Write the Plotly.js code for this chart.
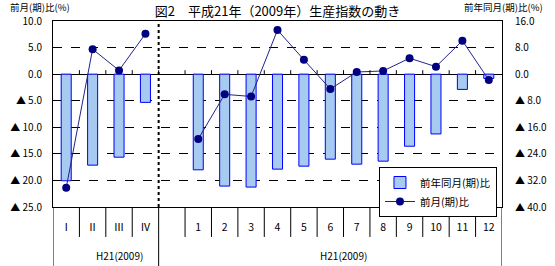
<!DOCTYPE html>
<html>
<head>
<meta charset="utf-8">
<script src="https://cdn.plot.ly/plotly-3.0.1.min.js"></script>
<style>html,body{margin:0;padding:0;background:#fff;}#chart{width:555px;height:266px;}</style>
</head>
<body>
<div id="chart"></div>
<script>
// ---- data ----
const quarterLabels = ['Ⅰ', 'Ⅱ', 'Ⅲ', 'Ⅳ'];
const monthLabels = ['1', '2', '3', '4', '5', '6', '7', '8', '9', '10', '11', '12'];
const yearLabel = 'H21(2009)';
// 前年同月(期)比 (right axis)
const quarterYoY = [-32.1, -27.4, -25.0, -8.5];
const monthYoY = [-28.8, -33.7, -34.0, -28.6, -27.7, -25.6, -27.1, -26.2, -21.7, -18.0, -4.6, -1.3];
// 前月(期)比 (left axis)
const quarterMoM = [-21.4, 4.7, 0.7, 7.6];
const monthMoM = [-12.2, -3.8, -4.2, 8.3, 2.7, -2.8, 0.4, 0.6, 3.0, 1.4, 6.3, -1.1];
const leftTickVals = [10, 5, 0, -5, -10, -15, -20, -25];
const rightTickVals = [16, 8, 0, -8, -16, -24, -32, -40];

// ---- build ----
const slots = [...quarterLabels, '', ...monthLabels];
const xs = slots.map((_, i) => i);
const yoy = [...quarterYoY, null, ...monthYoY];
const mom = [...quarterMoM, null, ...monthMoM];
const fmt = v => v < 0 ? '▲ ' + Math.abs(v).toFixed(1) : v.toFixed(1);
const FONT = '"Noto Sans CJK JP", "MS PGothic", sans-serif';
const gapIdx = quarterLabels.length;
const leftRange = [-25, 10];
const rightRange = [-40, 16];
const zeroFrac = (0 - leftRange[0]) / (leftRange[1] - leftRange[0]);

const traces = [
  {
    type: 'bar', x: xs, y: yoy, yaxis: 'y', name: '前年同月(期)比', width: 0.38,
    marker: {color: '#A6CAF0', line: {color: '#0000FF', width: 1}}
  },
  {
    type: 'scatter', mode: 'lines+markers', x: xs, y: mom, yaxis: 'y2', name: '前月(期)比',
    connectgaps: false,
    line: {color: '#22228A', width: 1},
    marker: {color: '#000080', size: 8}
  }
];

const shapes = [];
// separator between quarterly and monthly sections
shapes.push({type: 'line', xref: 'x', yref: 'paper', x0: gapIdx - 0.5, x1: gapIdx - 0.5, y0: 0, y1: 1,
  line: {color: '#000', width: 2, dash: 'dot'}});
// long dividers under the plot
[-0.5, gapIdx - 0.5, slots.length - 0.5].forEach(b => {
  shapes.push({type: 'line', xref: 'x', yref: 'paper', x0: b, x1: b, y0: 0, y1: -0.33,
    line: {color: '#000', width: 1}});
});
for (let i = 0; i < slots.length - 1; i++) {
  const b = i + 0.5;
  if (b !== gapIdx - 0.5) {
    shapes.push({type: 'line', xref: 'x', yref: 'paper', x0: b, x1: b, y0: 0, y1: -0.161,
      line: {color: '#000', width: 1}});
  }
  // small ticks on zero line
  shapes.push({type: 'line', xref: 'x', yref: 'paper', x0: b, x1: b, y0: zeroFrac, y1: zeroFrac + 4 / 186,
    line: {color: '#000', width: 1}});
}

const annotations = [
  {text: '前月(期)比(%)', xref: 'paper', yref: 'paper', x: -0.1002, y: 1.0763, xanchor: 'left', yanchor: 'middle',
    showarrow: false, font: {family: FONT, size: 9.5, color: '#000'}},
  {text: '前年同月(期)比(%)', xref: 'paper', yref: 'paper', x: 1.0958, y: 1.0763, xanchor: 'right', yanchor: 'middle',
    showarrow: false, font: {family: FONT, size: 9.5, color: '#000'}},
  {text: yearLabel, xref: 'x', yref: 'paper', x: (gapIdx - 1) / 2 + 0.5, y: -0.262, xanchor: 'center', yanchor: 'middle',
    showarrow: false, font: {family: FONT, size: 10, color: '#000'}},
  {text: yearLabel, xref: 'x', yref: 'paper', x: (gapIdx + 1 + slots.length - 1) / 2, y: -0.262, xanchor: 'center', yanchor: 'middle',
    showarrow: false, font: {family: FONT, size: 10, color: '#000'}}
];

const layout = {
  width: 555, height: 266,
  margin: {l: 53, r: 53, t: 21, b: 59, pad: 0},
  paper_bgcolor: '#fff', plot_bgcolor: '#fff',
  font: {family: FONT, size: 10, color: '#000'},
  title: {text: '図2　平成21年（2009年）生産指数の動き', x: 0.5, xanchor: 'center', xref: 'paper',
    y: 1 - 11 / 266, yref: 'container', yanchor: 'middle', font: {family: FONT, size: 13, color: '#000'}},
  showlegend: true,
  legend: {x: 0.726, y: 0.215, xanchor: 'left', yanchor: 'top', bgcolor: '#fff', bordercolor: '#000', borderwidth: 1,
    font: {family: FONT, size: 10.5, color: '#000'}, itemwidth: 30, tracegroupgap: 0},
  bargap: 0,
  xaxis: {type: 'linear', range: [-0.5, slots.length - 0.5], tickmode: 'array', tickvals: xs, ticktext: slots,
    ticks: '', showgrid: false, zeroline: false, showline: true, linecolor: '#000', linewidth: 1, mirror: true,
    ticklabelstandoff: 10, tickfont: {family: FONT, size: 10.5, color: '#000'}, fixedrange: true},
  yaxis: {range: rightRange, side: 'right', tickmode: 'array', tickvals: rightTickVals, ticktext: rightTickVals.map(fmt),
    showgrid: true, gridcolor: '#000', gridwidth: 1, griddash: 'dash',
    zeroline: true, zerolinecolor: '#000', zerolinewidth: 1,
    showline: true, linecolor: '#000', linewidth: 1, mirror: true, ticks: '', ticklabelstandoff: 10,
    tickfont: {family: FONT, size: 10, color: '#000'}},
  yaxis2: {range: leftRange, side: 'left', overlaying: 'y', tickmode: 'array', tickvals: leftTickVals,
    ticktext: leftTickVals.map(fmt), showgrid: false, zeroline: false, showline: false, ticks: '',
    ticklabelstandoff: 10, tickfont: {family: FONT, size: 10, color: '#000'}},
  shapes: shapes,
  annotations: annotations
};

Plotly.newPlot('chart', traces, layout, {displayModeBar: false, staticPlot: true});
</script>
</body>
</html>
